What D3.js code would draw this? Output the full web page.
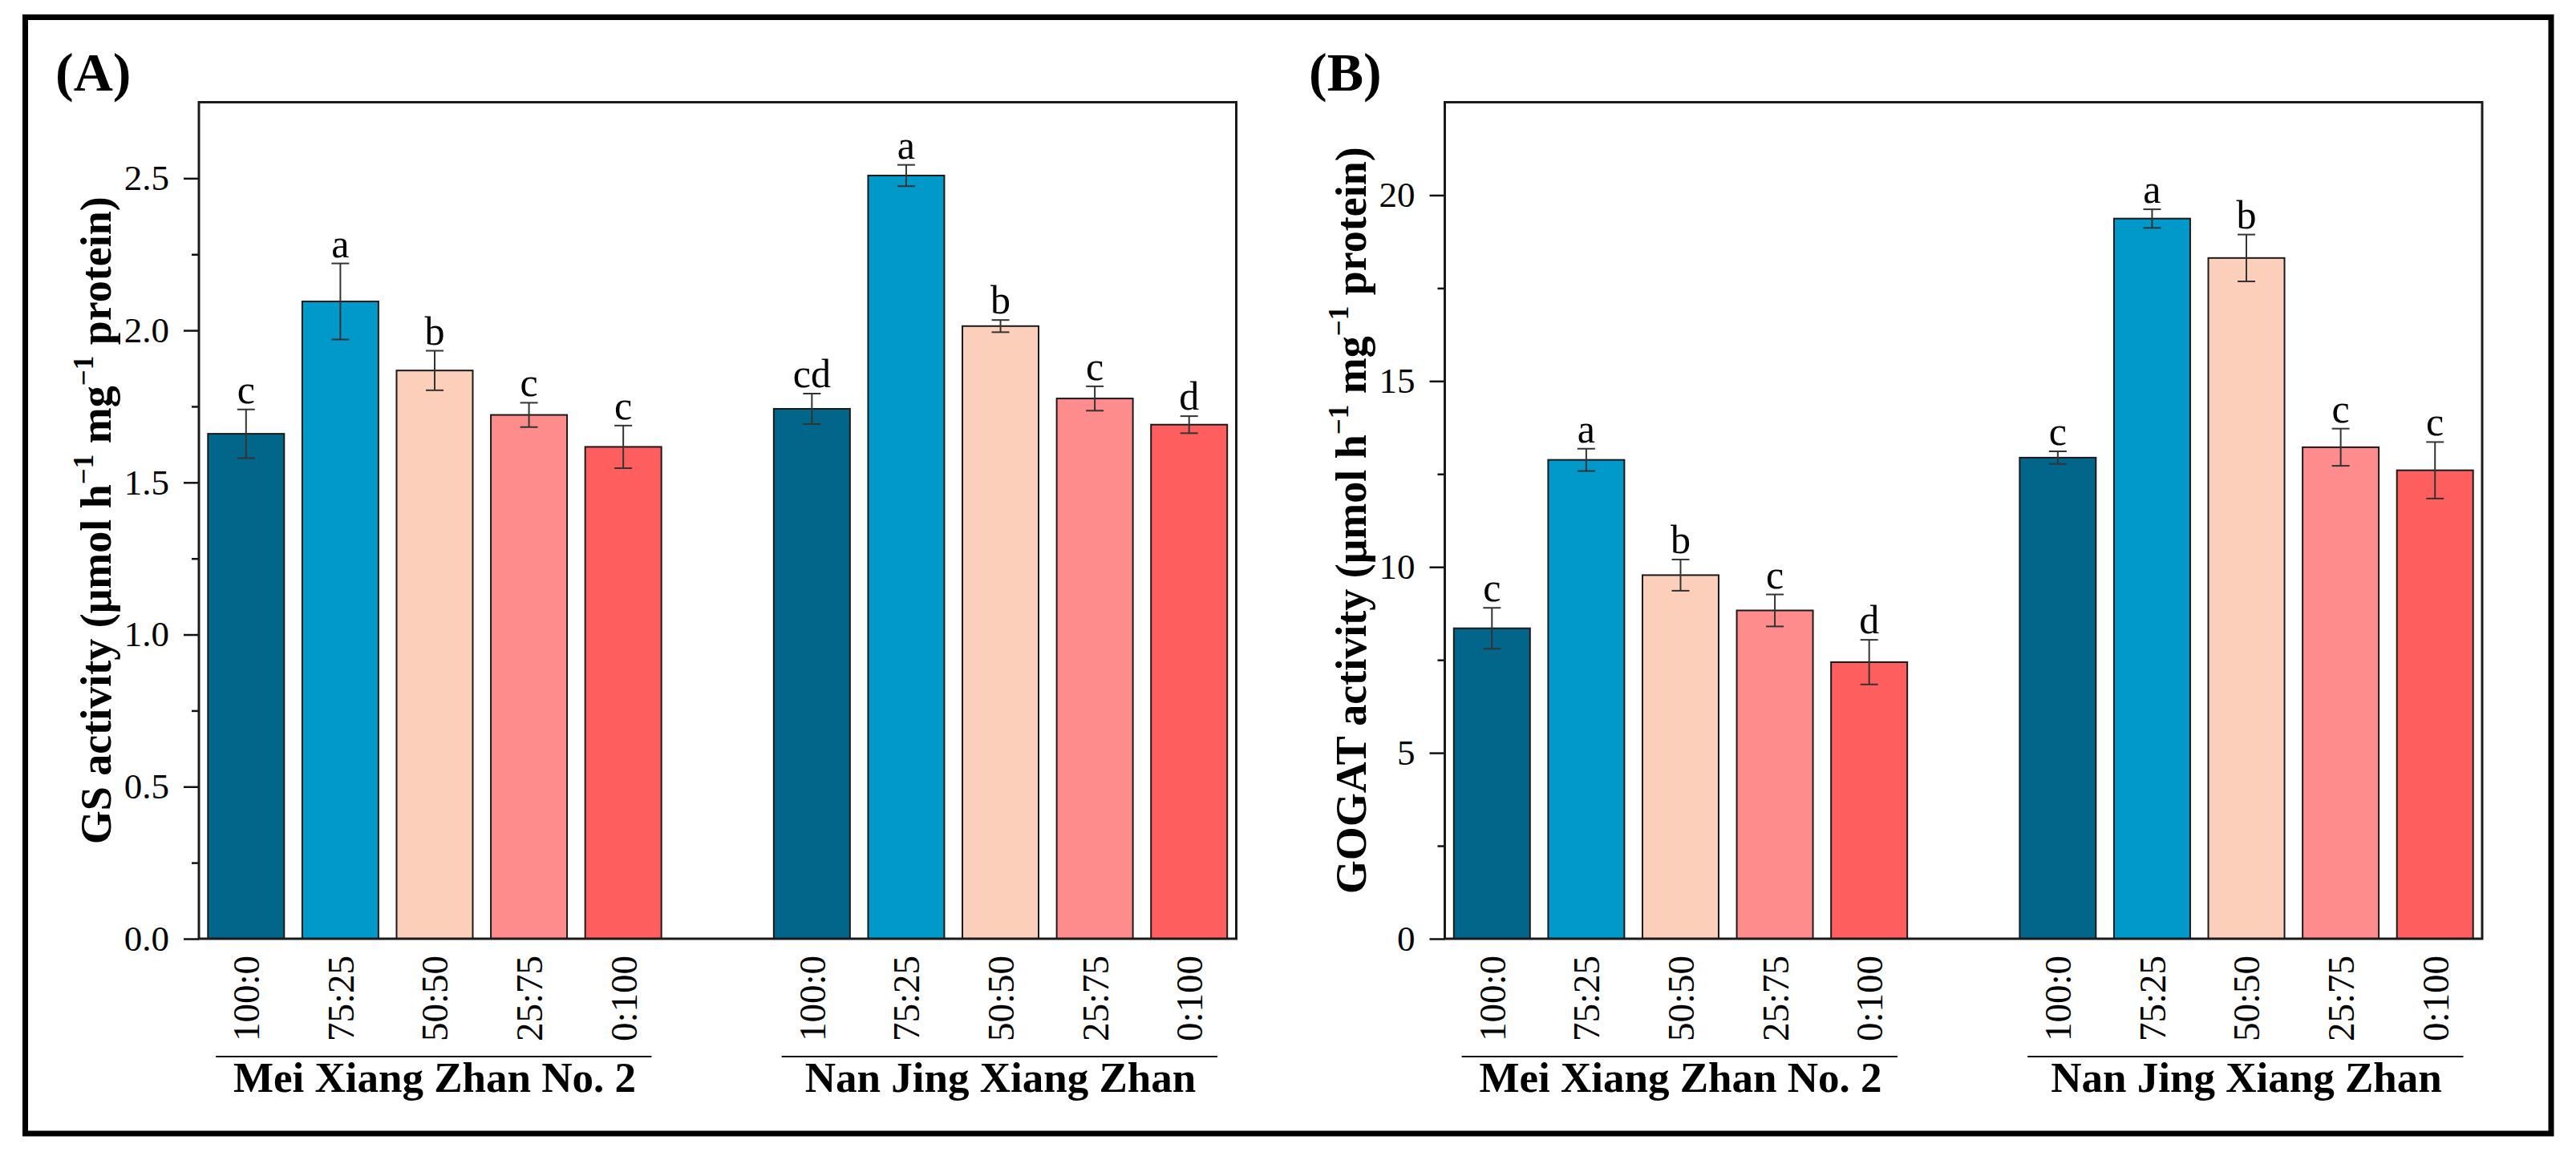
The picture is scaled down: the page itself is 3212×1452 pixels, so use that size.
<!DOCTYPE html>
<html>
<head>
<meta charset="utf-8">
<script src="https://cdn.jsdelivr.net/npm/d3@7"></script>
<style>
  body { margin: 0; background: #fff; }
  text { font-family: "Liberation Serif", "Times New Roman", serif; fill: #000; }
</style>
</head>
<body>
<div id="chart"></div>
<script>
// ---- data ----
var ratios = ["100:0", "75:25", "50:50", "25:75", "0:100"];
var cultivars = ["Mei Xiang Zhan No. 2", "Nan Jing Xiang Zhan"];
var barColors = ["#02668A", "#0099C9", "#FCCFBB", "#FF8C8C", "#FF5E5E"];

var gsMean = [[1.66, 2.095, 1.868, 1.722, 1.617], [1.742, 2.509, 2.014, 1.776, 1.690]];
var gsErr = [[0.08, 0.125, 0.065, 0.04, 0.07], [0.05, 0.035, 0.02, 0.04, 0.028]];
var gsLetters = [["c", "a", "b", "c", "c"], ["cd", "a", "b", "c", "d"]];

var gogatMean = [[8.35, 12.88, 9.78, 8.83, 7.44], [12.94, 19.37, 18.31, 13.22, 12.60]];
var gogatErr = [[0.55, 0.3, 0.42, 0.43, 0.6], [0.17, 0.25, 0.63, 0.5, 0.76]];
var gogatLetters = [["c", "a", "b", "c", "d"], ["c", "a", "b", "c", "c"]];

var gsTicks = [0, 0.5, 1.0, 1.5, 2.0, 2.5];
var gogatTicks = [0, 5, 10, 15, 20];

var svgWidth = 3212;
var svgHeight = 1452;

var svg = d3.select("#chart")
  .append("svg")
  .attr("width", svgWidth)
  .attr("height", svgHeight);

svg.append("rect")
  .attr("width", svgWidth)
  .attr("height", svgHeight)
  .attr("fill", "#fff");

// outer frame
svg.append("rect")
  .attr("x", 31.5)
  .attr("y", 21.5)
  .attr("width", 3181 - 31.5)
  .attr("height", 1414 - 21.5)
  .attr("fill", "none")
  .attr("stroke", "#000")
  .attr("stroke-width", 7);

var plotW = 1293.5;
var plotH = 1043.5;

function drawPanel(opt) {
  var g = svg.append("g")
    .attr("transform", `translate(${opt.left}, 127.5)`);

  var x = d3.scaleLinear().domain([-0.5, 10.5]).range([0, plotW]);
  var y = d3.scaleLinear().domain([0, opt.yMax]).range([plotH, 0]);
  var step = x(1) - x(0);
  var barW = 95;

  // flatten to bar rows
  var rows = [];
  opt.means.forEach(function(grp, gi) {
    grp.forEach(function(v, i) {
      rows.push({ slot: gi * 6 + i, i: i, value: v, err: opt.errs[gi][i], letter: opt.letters[gi][i] });
    });
  });

  g.selectAll(".bar")
    .data(rows)
    .enter()
    .append("rect")
    .attr("x", d => x(d.slot) - barW / 2)
    .attr("y", d => y(d.value))
    .attr("width", barW)
    .attr("height", d => y(0) - y(d.value))
    .attr("fill", d => barColors[d.i])
    .attr("stroke", "#1a1a1a")
    .attr("stroke-width", 2);

  // error bars
  var eb = g.selectAll(".err").data(rows).enter().append("g")
    .attr("stroke", "#333")
    .attr("stroke-width", 2);
  eb.append("line")
    .attr("x1", d => x(d.slot)).attr("x2", d => x(d.slot))
    .attr("y1", d => y(d.value + d.err)).attr("y2", d => y(d.value - d.err));
  eb.append("line")
    .attr("x1", d => x(d.slot) - 11).attr("x2", d => x(d.slot) + 11)
    .attr("y1", d => y(d.value + d.err)).attr("y2", d => y(d.value + d.err));
  eb.append("line")
    .attr("x1", d => x(d.slot) - 11).attr("x2", d => x(d.slot) + 11)
    .attr("y1", d => y(d.value - d.err)).attr("y2", d => y(d.value - d.err));

  // significance letters
  g.selectAll(".letter")
    .data(rows)
    .enter()
    .append("text")
    .attr("x", d => x(d.slot))
    .attr("y", d => y(d.value + d.err) - 8)
    .attr("text-anchor", "middle")
    .attr("font-size", 50)
    .text(d => d.letter);

  // y axis: major + minor ticks
  var minor = [];
  for (var k = 0; k < opt.ticks.length; k++) {
    var mid = opt.ticks[k] + opt.tickStep / 2;
    if (mid < opt.yMax - 1e-9) minor.push(mid);
  }
  var majorAxis = d3.axisLeft(y).tickValues(opt.ticks).tickSize(19).tickPadding(18)
    .tickFormat(opt.format);
  var minorAxis = d3.axisLeft(y).tickValues(minor).tickSize(9).tickFormat("");

  var ga = g.append("g").call(majorAxis);
  ga.select(".domain").remove();
  ga.selectAll("line").attr("stroke", "#111").attr("stroke-width", 2.5);
  ga.selectAll("text")
    .attr("font-size", 45)
    .attr("font-family", "Liberation Serif, serif");

  var gm = g.append("g").call(minorAxis);
  gm.select(".domain").remove();
  gm.selectAll("line").attr("stroke", "#111").attr("stroke-width", 2.5);

  // plot frame
  g.append("rect")
    .attr("width", plotW)
    .attr("height", plotH)
    .attr("fill", "none")
    .attr("stroke", "#1a1a1a")
    .attr("stroke-width", 3);

  // category labels (rotated)
  g.selectAll(".cat")
    .data(rows)
    .enter()
    .append("text")
    .attr("transform", d => `translate(${x(d.slot)}, ${plotH + 21}) rotate(-90)`)
    .attr("text-anchor", "end")
    .attr("dy", "0.35em")
    .attr("font-size", 47)
    .text(d => ratios[d.i]);

  // cultivar underline + name
  cultivars.forEach(function(name, gi) {
    var s0 = gi * 6, s4 = gi * 6 + 4;
    g.append("line")
      .attr("x1", x(s0) - 0.32 * step)
      .attr("x2", x(s4) + 0.3 * step)
      .attr("y1", 1318 - 127.5)
      .attr("y2", 1318 - 127.5)
      .attr("stroke", "#111")
      .attr("stroke-width", 2);
    g.append("text")
      .attr("x", x(s0 + 2))
      .attr("y", 1362 - 127.5)
      .attr("text-anchor", "middle")
      .attr("font-size", 53)
      .attr("font-weight", "bold")
      .text(name);
  });

  // y title
  var yt = svg.append("text")
    .attr("transform", `translate(${opt.titleX}, ${127.5 + plotH / 2}) rotate(-90)`)
    .attr("text-anchor", "middle")
    .attr("font-size", 54)
    .attr("font-weight", "bold");
  yt.append("tspan").text(opt.titleMain + " activity (\u03bcmol h");
  yt.append("tspan").attr("font-size", 35).attr("dy", -22).text("\u22121");
  yt.append("tspan").attr("dy", 22).text(" mg");
  yt.append("tspan").attr("font-size", 35).attr("dy", -22).text("\u22121");
  yt.append("tspan").attr("dy", 22).text(" protein)");

  // panel tag
  svg.append("text")
    .attr("x", opt.tagX)
    .attr("y", 113)
    .attr("font-size", 68)
    .attr("font-weight", "bold")
    .text(opt.tag);
}

drawPanel({
  left: 248, yMax: 2.75, ticks: gsTicks, tickStep: 0.5, format: d3.format(".1f"),
  means: gsMean, errs: gsErr, letters: gsLetters,
  titleMain: "GS", titleX: 138, tag: "(A)", tagX: 69
});

drawPanel({
  left: 1801.5, yMax: 22.5, ticks: gogatTicks, tickStep: 5, format: d3.format("d"),
  means: gogatMean, errs: gogatErr, letters: gogatLetters,
  titleMain: "GOGAT", titleX: 1703, tag: "(B)", tagX: 1632
});
</script>
</body>
</html>
